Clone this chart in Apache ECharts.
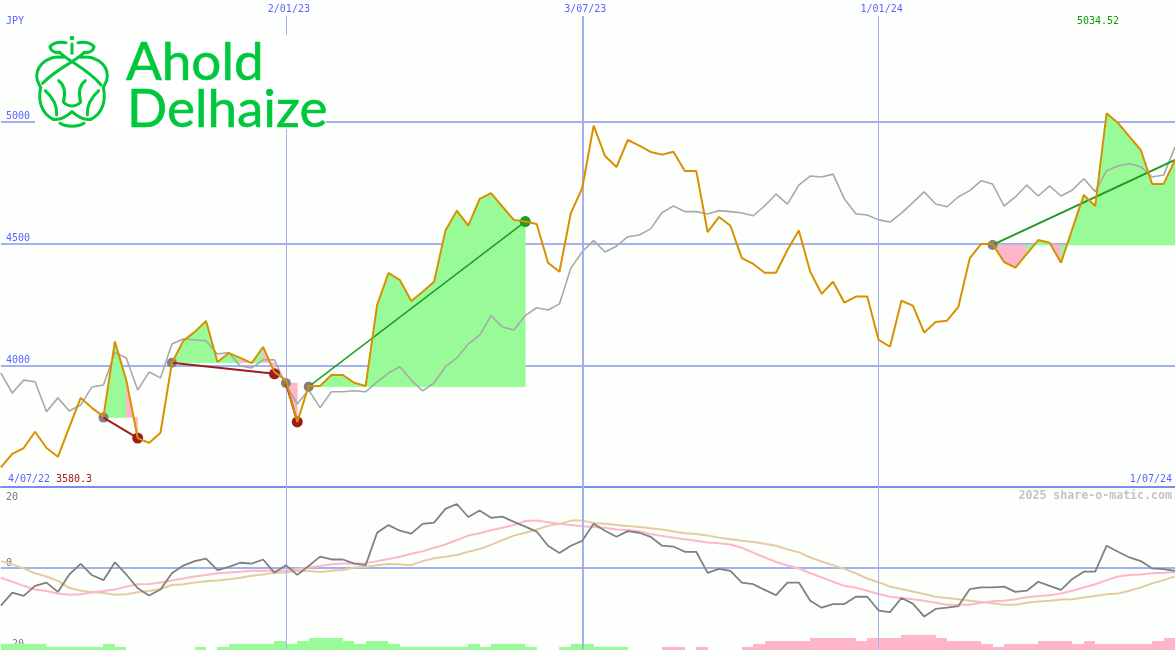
<!DOCTYPE html>
<html>
<head>
<meta charset="utf-8">
<style>html,body{margin:0;padding:0;background:#fdfffd}#c{width:1175px;height:650px}</style>
<script src="https://cdn.jsdelivr.net/npm/echarts@6/dist/echarts.min.js"></script>
</head>
<body>
<div id="c"></div>
<script>
const weeks = ["11/07/22","18/07/22","25/07/22","1/08/22","8/08/22","15/08/22","22/08/22","29/08/22","5/09/22","12/09/22","19/09/22","26/09/22","3/10/22","10/10/22","17/10/22","24/10/22","31/10/22","7/11/22","14/11/22","21/11/22","28/11/22","5/12/22","12/12/22","19/12/22","26/12/22",
"2/01/23","9/01/23","16/01/23","23/01/23","30/01/23","6/02/23","13/02/23","20/02/23","27/02/23","6/03/23","13/03/23","20/03/23","27/03/23","3/04/23","10/04/23","17/04/23","24/04/23","1/05/23","8/05/23","15/05/23","22/05/23","29/05/23","5/06/23","12/06/23","19/06/23","26/06/23",
"3/07/23","10/07/23","17/07/23","24/07/23","31/07/23","7/08/23","14/08/23","21/08/23","28/08/23","4/09/23","11/09/23","18/09/23","25/09/23","2/10/23","9/10/23","16/10/23","23/10/23","30/10/23","6/11/23","13/11/23","20/11/23","27/11/23","4/12/23","11/12/23","18/12/23","25/12/23",
"1/01/24","8/01/24","15/01/24","22/01/24","29/01/24","5/02/24","12/02/24","19/02/24","26/02/24","4/03/24","11/03/24","18/03/24","25/03/24","1/04/24","8/04/24","15/04/24","22/04/24","29/04/24","6/05/24","13/05/24","20/05/24","27/05/24","3/06/24","10/06/24","17/06/24","24/06/24","1/07/24"];
const dateTicks = ["2/01/23","3/07/23","1/01/24"];
const dateTickWidths = [1,2,1];

const closePrice = [3580.3,3636,3660,3727,3660,3624,3746,3866,3824,3790,4097,3939,3701,3681,3723,4009,4100,4137,4182,4013,4050,4030,4009,4075,3972,
3939,3767,3915,3915,3960,3960,3928,3915,4247,4379,4350,4264,4302,4343,4553,4635,4573,4683,4707,4651,4597,4590,4580,4421,4384,4625,
4728,4984,4859,4814,4925,4902,4876,4865,4877,4798,4798,4547,4609,4573,4440,4416,4380,4380,4473,4553,4384,4293,4343,4257,4282,4282,
4104,4076,4265,4245,4134,4178,4183,4240,4440,4498,4498,4424,4401,4457,4514,4503,4421,4561,4699,4654,5034.52,4995,4939,4884,4744,4744,4843];
const indexPrice = [3968,3886,3939,3932,3809,3866,3812,3837,3911,3919,4052,4030,3898,3972,3948,4087,4108,4104,4100,4046,4052,3997,3989,4022,4022,
3919,3841,3898,3826,3891,3891,3895,3891,3932,3968,3994,3939,3895,3927,3994,4030,4087,4124,4204,4157,4145,4204,4236,4227,4252,4399,
4466,4512,4465,4489,4528,4535,4560,4627,4654,4631,4631,4621,4635,4631,4625,4614,4654,4703,4662,4740,4777,4773,4785,4683,4622,4617,
4597,4588,4625,4668,4712,4662,4651,4692,4717,4758,4744,4654,4691,4740,4695,4737,4695,4720,4766,4713,4799,4818,4828,4815,4773,4781,4896];

const tradeEntryIdx = [9,15,25,27,87];
const tradeEntryPrice = [3785,4010,3927,3912,4494];
const tradeExitIdx = [12,24,26,46,103];
const tradeExitPrice = [3701,3965,3767,4590,4843];
const tradeColor = ["#a01c1c","#a01c1c","#a01c1c","#229a22","#229a22"];
const tradeLineWidth = [2,2,2,1.5,2];
const tradeExitDot = [true,true,true,true,false];

const oscillator = [-9.3,-6.1,-6.9,-4.4,-3.6,-5.9,-1.6,1.0,-1.8,-3.0,1.4,-1.6,-5.0,-6.8,-5.3,-1.3,0.6,1.7,2.3,-0.5,0.3,1.3,1.1,2.1,-1.2,
0.7,-1.7,0.5,2.8,2.1,2.1,1.1,0.7,8.7,10.6,9.2,8.5,10.9,11.2,14.6,15.8,12.6,14.2,12.4,12.7,11.4,10.2,9.0,5.5,3.7,5.5,
6.7,10.9,9.2,7.7,9.1,8.7,7.7,5.5,5.3,4.0,4.0,-1.2,-0.2,-0.7,-3.6,-4.0,-5.4,-6.7,-3.6,-3.6,-8.1,-9.8,-8.9,-8.9,-7.1,-7.1,
-10.5,-10.9,-7.4,-8.8,-12.0,-10.1,-9.8,-9.4,-5.2,-4.8,-4.8,-4.6,-5.9,-5.6,-3.4,-4.4,-5.4,-2.7,-0.9,-0.9,5.5,4.0,2.6,1.7,-0.1,-0.3,-0.7];
const signalFast = [-2.4,-3.4,-4.4,-5.3,-5.7,-6.3,-6.6,-6.5,-6.0,-5.7,-5.3,-4.6,-4.0,-3.95,-3.6,-3.1,-2.6,-2.1,-1.7,-1.3,-1.1,-0.9,-0.7,-0.7,-0.7,
-0.7,-0.25,0.1,0.5,0.9,1.1,1.1,1.2,1.7,2.2,2.8,3.5,4.1,5.0,5.8,6.9,8.0,8.6,9.3,9.96,10.6,11.6,11.7,11.3,10.9,10.6,
10.3,10.1,9.96,9.5,9.4,9.0,8.4,7.9,7.5,7.1,6.75,6.3,6.1,5.8,5.0,3.8,2.6,1.5,0.6,-0.1,-1.3,-2.3,-3.4,-4.4,-4.9,-5.6,
-6.4,-7.1,-7.4,-7.7,-8.1,-8.6,-9.1,-9.1,-9.1,-8.6,-8.2,-8.1,-7.7,-7.2,-6.9,-6.7,-6.3,-5.6,-4.8,-4.0,-3.0,-2.1,-1.7,-1.6,-1.3,-1.2,-1.0];
const signalSlow = [1.7,0.9,-0.1,-1.3,-2.1,-3.2,-4.9,-5.6,-5.9,-6.2,-6.6,-6.5,-6.0,-5.7,-5.2,-4.2,-4.0,-3.6,-3.3,-3.1,-2.8,-2.4,-1.9,-1.6,-1.2,
-1.1,-0.7,-0.75,-1.0,-0.7,-0.5,0.1,0.3,0.7,1.0,0.9,0.7,1.7,2.4,2.8,3.2,4.0,4.7,5.7,6.9,8.0,8.7,9.5,10.4,10.9,11.7,
11.7,11.1,10.9,10.6,10.4,10.1,9.8,9.5,9.0,8.6,8.4,8.0,7.5,7.1,6.7,6.4,6.0,5.5,4.6,3.9,2.6,1.6,0.7,-0.2,-1.3,-2.6,
-3.5,-4.6,-5.2,-5.8,-6.4,-7.1,-7.4,-7.7,-8.1,-8.4,-8.7,-9.1,-9.1,-8.6,-8.3,-8.1,-7.8,-7.7,-7.3,-6.9,-6.5,-6.3,-5.6,-4.8,-3.8,-3.0,-2.1];
const histogram = [2,2,2,2,1,1,1,1,1,2,1,0,0,0,0,0,0,1,0,1,2,2,2,2,3,
2,3,4,4,4,3,2,3,3,2,1,1,1,1,1,1,2,1,2,2,2,1,0,0,1,2,
2,1,1,1,0,0,0,-1,-1,0,-1,0,0,0,-1,-2,-3,-3,-3,-3,-4,-4,-4,-4,-3,-4,
-4,-4,-5,-5,-5,-4,-3,-3,-3,-2,-1,-2,-2,-2,-3,-3,-3,-2,-3,-2,-2,-2,-2,-2,-3,-4,-4];

const GREEN = "#98fb98", PINK = "#ffb6c9", GRID = "#a3b1f2", AXIS = "#7c8cee", BLUE = "#5a64ff", LOGO = "#00c83c";
const MONO = '"DejaVu Sans Mono", monospace';

// per-segment fills between close and each trade's entry level
const fillSegments = [];
tradeEntryIdx.forEach((start, t) => {
  for (let i = start; i < tradeExitIdx[t]; i++) {
    fillSegments.push([i, closePrice[i], closePrice[i + 1], tradeEntryPrice[t]]);
  }
});

const vLines = (tops, bottom) => dateTicks.map((d, k) => [
  {coord: [d, tops], lineStyle: {color: GRID, width: dateTickWidths[k], type: "solid"}},
  {coord: [d, bottom]}
]);

function txt(x, y, text, fill, align, font) {
  return {type: "text", z: 120, x, y, style: {text, fill, align: align || "left", verticalAlign: "middle", font: font || ("10px " + MONO)}};
}
function stroke(d) {
  return {type: "path", shape: {pathData: d}, style: {stroke: LOGO, lineWidth: 9, fill: "none", lineCap: "round", lineJoin: "round"}};
}

const lionPaths = [
  "M216 132 L216 160",
  "M198 128 C175 124 160 128 150 140 C152 152 166 160 180 158",
  "M234 128 C257 124 272 128 282 140 C280 152 266 160 252 158",
  "M178 156 C205 185 262 205 303 255",
  "M254 156 C227 185 170 205 128 250",
  "M190 172 C150 165 112 190 110 228 C110 246 118 254 122 262 C114 300 122 340 160 358",
  "M242 172 C282 165 322 190 322 228 C322 246 314 254 310 262 C318 300 310 340 272 358",
  "M136 272 C158 292 172 315 170 345",
  "M296 272 C274 292 260 315 262 345",
  "M176 242 C196 258 196 285 190 306 C205 322 227 322 242 306 C236 285 236 258 256 242",
  "M160 358 C185 362 205 345 216 335 C227 345 247 362 272 358",
  "M180 370 C200 382 232 382 252 370"
];

const option = {
  animation: false,
  backgroundColor: "#fdfffd",
  grid: [
    {left: 0.9, width: 1174.6, top: 0, height: 487},
    {left: 0.9, width: 1174.6, top: 487, height: 162},
    {left: 0.9, width: 1174.6, top: 488, height: 162}
  ],
  xAxis: [
    {gridIndex: 0, type: "category", boundaryGap: false, data: weeks, position: "top",
      axisLine: {show: false}, axisTick: {show: false}, splitLine: {show: false},
      axisLabel: {show: true, inside: true, margin: 4, color: BLUE, fontFamily: MONO, fontSize: 10, padding: [0,0,0,6],
        interval: (i, v) => dateTicks.includes(v)}},
    {gridIndex: 1, type: "category", boundaryGap: false, data: weeks, position: "top",
      axisLine: {show: true, onZero: false, lineStyle: {color: AXIS, width: 2}}, axisTick: {show: false}, axisLabel: {show: false}, splitLine: {show: false}},
    {gridIndex: 2, type: "category", boundaryGap: false, data: weeks, show: false}
  ],
  yAxis: [
    {gridIndex: 0, type: "value", min: 3500, max: 5500, interval: 500,
      axisLine: {show: false}, axisTick: {show: false},
      splitLine: {show: true, showMinLine: false, showMaxLine: false, lineStyle: {color: GRID, width: 2}},
      axisLabel: {inside: true, margin: 5, color: BLUE, fontFamily: MONO, fontSize: 10, verticalAlign: "bottom", showMinLabel: false, showMaxLabel: false, formatter: v => String(v)}},
    {gridIndex: 1, type: "value", min: -20, max: 20, interval: 20,
      axisLine: {show: false}, axisTick: {show: false},
      splitLine: {show: true, showMinLine: false, showMaxLine: false, lineStyle: {color: GRID, width: 2}},
      axisLabel: {inside: true, margin: 5, color: "#777", fontFamily: MONO, fontSize: 10, verticalAlign: "bottom", verticalAlignMaxLabel: "top", padding: [5,0,0,0]}},
    {gridIndex: 2, type: "value", min: 0, max: 54, show: false}
  ],
  series: [
    {type: "line", name: "dates", xAxisIndex: 0, yAxisIndex: 0, data: [], z: 1, silent: true,
      markLine: {silent: true, symbol: "none", label: {show: false}, animation: false, data: vLines(5434, 3500)}},
    {type: "line", name: "dates2", xAxisIndex: 1, yAxisIndex: 1, data: [], z: 1, silent: true,
      markLine: {silent: true, symbol: "none", label: {show: false}, animation: false, data: vLines(20, -20)}},
    {type: "custom", name: "fill", xAxisIndex: 0, yAxisIndex: 0, z: 2, silent: true, data: fillSegments,
      encode: {x: 0, y: [1, 2, 3]},
      renderItem(params, api) {
        const i = api.value(0), a = api.value(1), b = api.value(2), base = api.value(3);
        const col = b >= base ? GREEN : PINK;
        return {type: "polygon", shape: {points: [
          api.coord([i, base]), api.coord([i, a]), api.coord([i + 1, b]), api.coord([i + 1, base])
        ]}, style: {fill: col, stroke: col, lineWidth: 0.6}};
      }},
    {type: "line", name: "index", xAxisIndex: 0, yAxisIndex: 0, data: indexPrice, z: 3, symbol: "none", lineStyle: {color: "#a8a8a8", width: 1.6}},
    {type: "scatter", name: "entries", xAxisIndex: 0, yAxisIndex: 0, z: 4, symbolSize: 10,
      data: tradeEntryIdx.map((x, t) => [x, tradeEntryPrice[t]]), itemStyle: {color: "#808080", opacity: 1}},
    {type: "scatter", name: "exits", xAxisIndex: 0, yAxisIndex: 0, z: 4, symbolSize: 11,
      data: tradeExitIdx.map((x, t) => ({value: [x, tradeExitPrice[t]], itemStyle: {color: tradeColor[t], opacity: tradeExitDot[t] ? 1 : 0}}))},
    ...tradeEntryIdx.map((start, t) => ({type: "line", name: "trade" + t, xAxisIndex: 0, yAxisIndex: 0, z: 5, symbol: "none",
      data: [[start, tradeEntryPrice[t]], [tradeExitIdx[t], tradeExitPrice[t]]], lineStyle: {color: tradeColor[t], width: tradeLineWidth[t]}})),
    {type: "line", name: "close", xAxisIndex: 0, yAxisIndex: 0, data: closePrice, z: 6, symbol: "none", lineStyle: {color: "#d89000", width: 2}},
    {type: "custom", name: "histogram", xAxisIndex: 2, yAxisIndex: 2, z: 2, silent: true, clip: true,
      data: histogram.map((h, i) => [i, h]),
      renderItem(params, api) {
        const i = api.value(0), h = api.value(1);
        if (!h) return null;
        const p = api.coord([i, Math.abs(h)]), q = api.coord([i, 0]), w = api.size([1, 0])[0];
        const x0 = Math.round(p[0]), x1 = Math.round(p[0] + w);
        return {type: "rect", shape: {x: x0, y: p[1], width: x1 - x0, height: q[1] - p[1]}, style: {fill: h > 0 ? GREEN : PINK}};
      }},
    {type: "line", name: "slow", xAxisIndex: 1, yAxisIndex: 1, data: signalSlow, z: 3, symbol: "none", lineStyle: {color: "#e3cda0", width: 2}},
    {type: "line", name: "fast", xAxisIndex: 1, yAxisIndex: 1, data: signalFast, z: 4, symbol: "none", lineStyle: {color: "#ffb6c9", width: 2}},
    {type: "line", name: "osc", xAxisIndex: 1, yAxisIndex: 1, data: oscillator, z: 5, symbol: "none", lineStyle: {color: "#808080", width: 1.8}},
    {type: "custom", name: "logo", coordinateSystem: "none", z: 110, silent: true, data: [0],
      renderItem() {
        return {type: "group", x: 0, y: 0, scaleX: 1/3, scaleY: 1/3, children: [
          {type: "circle", shape: {cx: 216, cy: 114, r: 7}, style: {fill: LOGO}},
          ...lionPaths.map(stroke)
        ]};
      }}
  ],
  graphic: [
    {type: "rect", z: 100, shape: {x: 35, y: 35, width: 291, height: 94}, style: {fill: "#fff"}},
    {type: "text", z: 120, x: 126, y: 36, style: {text: "Ahold", fill: LOGO, stroke: LOGO, lineWidth: 0.6, font: '400 53px Lato'}},
    {type: "text", z: 120, x: 127, y: 83, style: {text: "Delhaize", fill: LOGO, stroke: LOGO, lineWidth: 0.6, font: '400 53px Lato'}},
    txt(6, 21, "JPY", BLUE),
    txt(1077, 21, "5034.52", "#0a9a0a"),
    txt(8, 479, "4/07/22", BLUE),
    txt(56, 479, "3580.3", "#a01c1c"),
    txt(1172, 479, "1/07/24", BLUE, "right"),
    txt(1172, 496, "2025 share-o-matic.com", "#c4c4c4", "right", 'bold 11.6px ' + MONO)
  ]
};
echarts.init(document.getElementById("c"), null, {renderer: "canvas"}).setOption(option);
</script>
</body>
</html>
